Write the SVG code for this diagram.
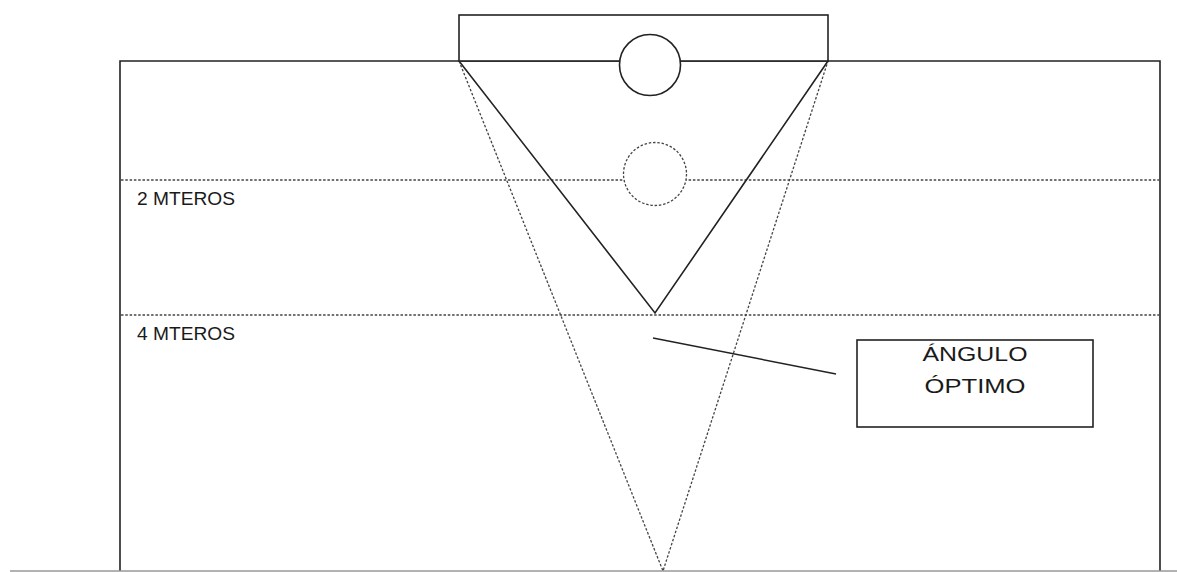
<svg xmlns="http://www.w3.org/2000/svg" width="1177" height="572" viewBox="0 0 1177 572">
<style>
.solid{fill:none;stroke:#222;stroke-width:1.6}
.dash{fill:none;stroke:#444;stroke-width:1.3;stroke-dasharray:2.5,1.8}
.filled{fill:#fff}
.lbl{font-family:"Liberation Sans",Arial,sans-serif;fill:#1a1a1a}
</style>
<rect width="1177" height="572" fill="#fff"/>
<g id="frame">
<polyline class="solid" points="120,571 120,61 1160,61 1160,571"/>
<line x1="10" y1="571" x2="1177" y2="571" stroke="#999" stroke-width="1.5"/>
</g>
<g id="levels">
<line class="dash" x1="121" y1="180" x2="1159" y2="180"/>
<line class="dash" x1="121" y1="315" x2="1159" y2="315"/>
<text class="lbl" x="137" y="205" font-size="18" textLength="98" lengthAdjust="spacingAndGlyphs">2 MTEROS</text>
<text class="lbl" x="137" y="340" font-size="18" textLength="98" lengthAdjust="spacingAndGlyphs">4 MTEROS</text>
</g>
<g id="dashed-circle">
<circle class="dash filled" cx="655" cy="174" r="31.5" style="fill:#fff"/>
</g>
<g id="connectors">
<polyline class="solid" points="459,61 655,313 828,61"/>
<polyline class="dash" points="459,61 663,571 828,61"/>
<line x1="653" y1="338" x2="836" y2="374" stroke="#222" stroke-width="1.4"/>
</g>
<g id="top-box">
<rect class="solid" x="459" y="15" width="369" height="46" style="fill:#fff"/>
<circle class="solid" cx="650" cy="65" r="30.5" style="fill:#fff"/>
</g>
<g id="angle-label">
<rect class="solid" x="857" y="340" width="236" height="87"/>
<text class="lbl" x="975" y="361" font-size="20" text-anchor="middle" textLength="105" lengthAdjust="spacingAndGlyphs">ÁNGULO</text>
<text class="lbl" x="975" y="393" font-size="20" text-anchor="middle" textLength="101" lengthAdjust="spacingAndGlyphs">ÓPTIMO</text>
</g>
</svg>
